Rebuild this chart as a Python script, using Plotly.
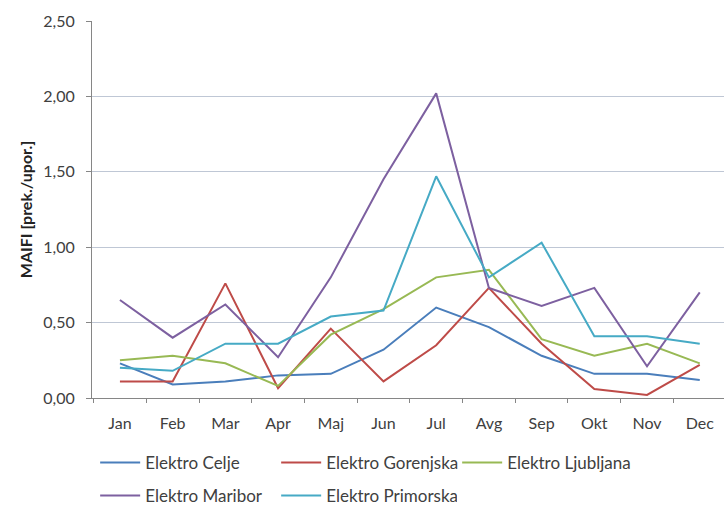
import plotly.graph_objects as go

months = ["Jan", "Feb", "Mar", "Apr", "Maj", "Jun", "Jul", "Avg", "Sep", "Okt", "Nov", "Dec"]

celje = [0.23, 0.09, 0.11, 0.15, 0.16, 0.32, 0.60, 0.47, 0.28, 0.16, 0.16, 0.12]
gorenjska = [0.11, 0.11, 0.76, 0.065, 0.46, 0.11, 0.35, 0.73, 0.36, 0.06, 0.02, 0.22]
ljubljana = [0.25, 0.28, 0.23, 0.08, 0.42, 0.59, 0.80, 0.85, 0.39, 0.28, 0.36, 0.23]
maribor = [0.65, 0.40, 0.62, 0.27, 0.80, 1.45, 2.02, 0.73, 0.61, 0.73, 0.21, 0.70]
primorska = [0.20, 0.18, 0.36, 0.36, 0.54, 0.58, 1.47, 0.80, 1.03, 0.41, 0.41, 0.36]

names = ["Elektro Celje", "Elektro Gorenjska", "Elektro Ljubljana", "Elektro Maribor", "Elektro Primorska"]
series = [celje, gorenjska, ljubljana, maribor, primorska]
colors = ["#4A7EBB", "#BE4B48", "#98B954", "#7D60A0", "#46AAC5"]
legend_ids = ["legend", "legend", "legend", "legend2", "legend2"]

yticks = [0, 0.5, 1.0, 1.5, 2.0, 2.5]

fig = go.Figure()
for n, s, c, lg in zip(names, series, colors, legend_ids):
    fig.add_trace(go.Scatter(x=months, y=s, name=n, mode="lines",
                             line=dict(color=c, width=2), legend=lg))

legend_style = dict(orientation="h", x=0.005, xanchor="left", yanchor="middle",
                    entrywidth=126, itemwidth=40, font=dict(size=17, color="#404040"),
                    bgcolor="rgba(0,0,0,0)")

fig.update_layout(
    width=724, height=514,
    margin=dict(l=92, r=0, t=21, b=109),
    paper_bgcolor="white", plot_bgcolor="white",
    separators=", ",
    font=dict(family="Lato, Open Sans, sans-serif", size=16, color="#404040"),
    showlegend=True,
    legend=dict(y=-0.172, **legend_style),
    legend2=dict(y=-0.26, **legend_style),
    xaxis=dict(range=[-0.53, 11.46], showline=True, linecolor="#868686", linewidth=1,
               ticks="outside", tickson="boundaries", ticklen=4, tickcolor="#868686",
               ticklabelstandoff=11,
               showgrid=False, zeroline=False, fixedrange=True),
    yaxis=dict(range=[0, 2.5], tickvals=yticks, tickformat=".2f",
               showline=True, linecolor="#868686", linewidth=1,
               ticks="outside", ticklen=5, tickcolor="#868686",
               ticklabelstandoff=8, fixedrange=True,
               showgrid=True, gridcolor="#BFC7D5", gridwidth=1, zeroline=False,
               title=dict(text="<b>MAIFI [prek./upor.]</b>", font=dict(size=16, color="#222222"), standoff=6)),
)

fig.write_html("out.html", config={"displayModeBar": False},
               post_script="document.body.style.margin='0px';")
